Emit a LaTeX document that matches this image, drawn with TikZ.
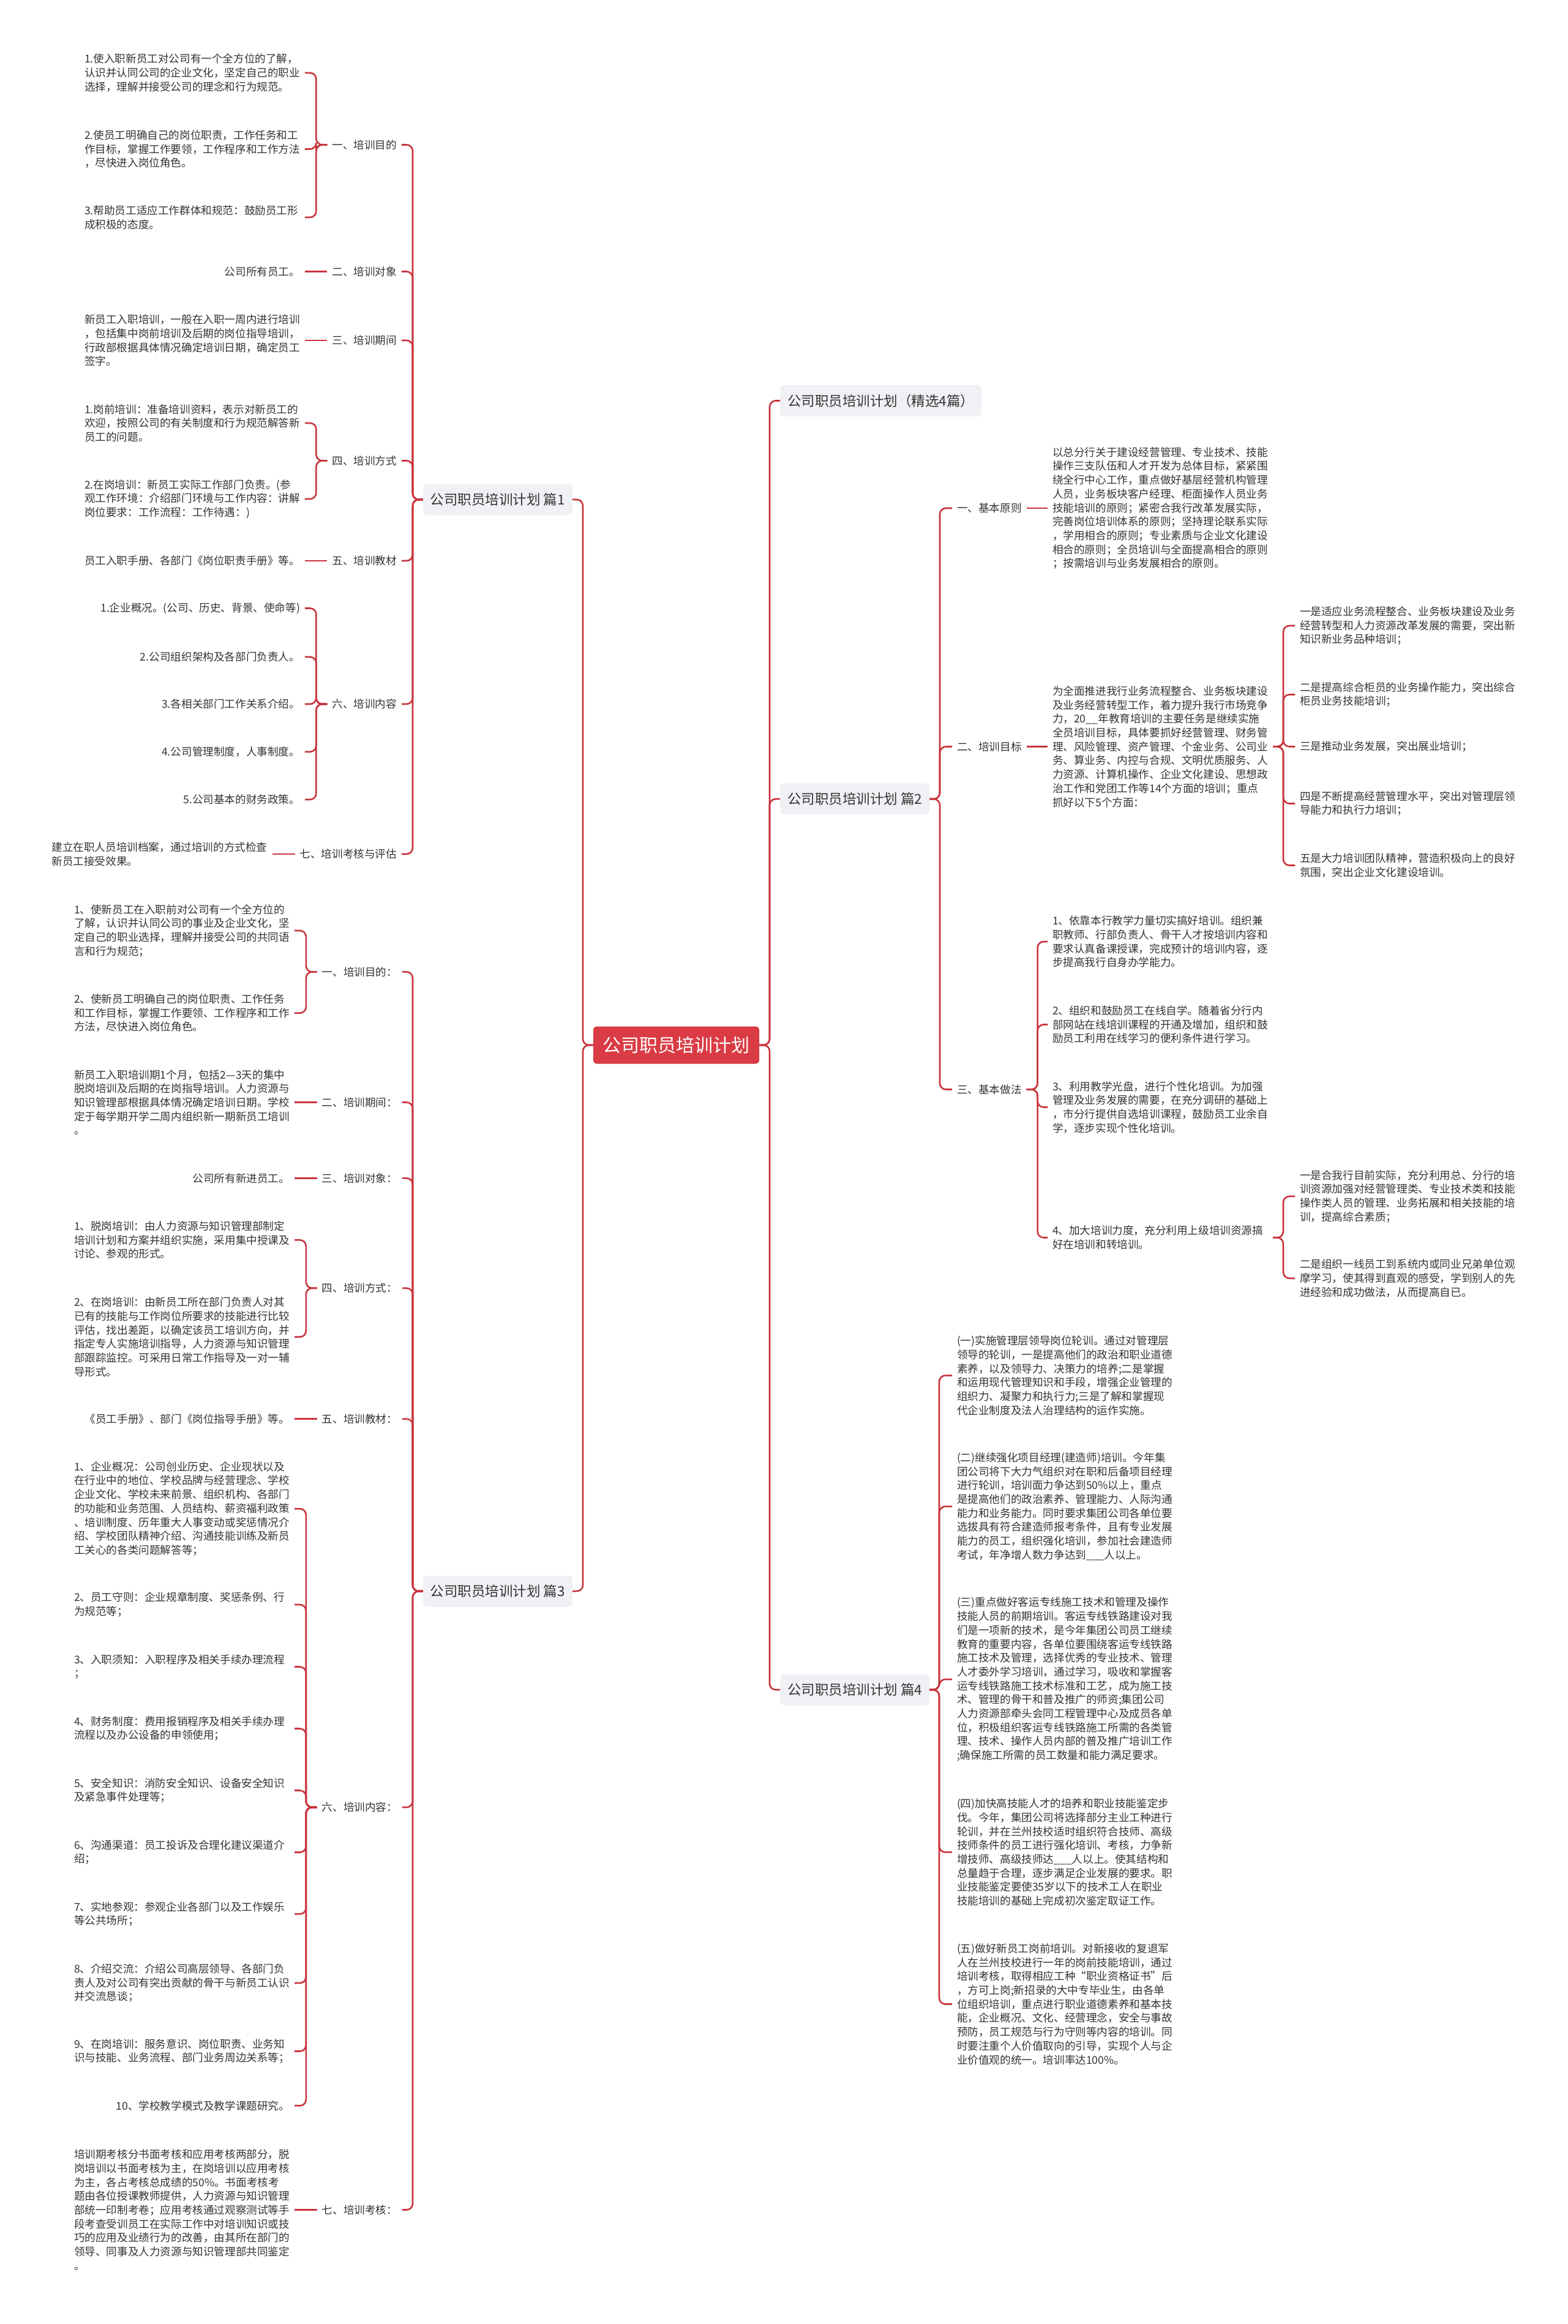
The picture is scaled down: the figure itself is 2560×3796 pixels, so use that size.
\documentclass[tikz,border=0pt]{standalone}
\usepackage{fontspec}
\newfontfamily\cjk{Noto Sans CJK SC}
\definecolor{linered}{RGB}{201,52,62}
\definecolor{rootred}{RGB}{218,59,68}
\definecolor{boxfill}{RGB}{239,241,244}
\definecolor{txt}{RGB}{51,51,51}
\newcommand\leaffont{\cjk\fontsize{17.6}{22.7}\selectfont}
\newcommand\lonefont{\cjk\fontsize{22.5}{27}\selectfont}
\newcommand\rootfont{\cjk\fontsize{30}{36}\selectfont}
\tikzset{
  leaf/.style={font=\leaffont, align=left, inner sep=0pt, outer xsep=8pt, outer ysep=0pt, text=txt},
  wide/.style={text width=352pt},
  lab/.style={leaf},
  lone/.style={font=\lonefont, fill=boxfill, rounded corners=7pt, inner xsep=12pt, inner ysep=0pt, minimum height=51pt, outer sep=0pt, text=txt},
  rootbox/.style={font=\rootfont, fill=rootred, text=white, rounded corners=6pt, inner xsep=15.5pt, inner ysep=0pt, minimum height=61pt, outer sep=0pt},
  conn/.style={draw=linered, line width=2.6pt, rounded corners=10pt}
}
\begin{document}
\begin{tikzpicture}[x=1pt,y=-1pt]
\fill[white] (0,0) rectangle (2560,3796);
\useasboundingbox (0,0) rectangle (2560,3796);

% root and main branches
\node[rootbox] (root) at (1104.5,1707) {公司职员培训计划};
\node[lone,anchor=east] (P1) at (935,816) {公司职员培训计划 篇1};
\node[lone,anchor=east] (P3) at (935,2599) {公司职员培训计划 篇3};
\node[lone,anchor=west] (R0) at (1274,654.5) {公司职员培训计划（精选4篇）};
\node[lone,anchor=west] (P2) at (1274,1305) {公司职员培训计划 篇2};
\node[lone,anchor=west] (P4) at (1274,2760) {公司职员培训计划 篇4};

% ---------- 篇1 ----------
\node[lab,anchor=east] (a1) at (656,236.5) {一、培训目的};
\node[lab,anchor=east] (a2) at (656,443.5) {二、培训对象};
\node[lab,anchor=east] (a3) at (656,556) {三、培训期间};
\node[lab,anchor=east] (a4) at (656,752.5) {四、培训方式};
\node[lab,anchor=east] (a5) at (656,916) {五、培训教材};
\node[lab,anchor=east] (a6) at (656,1150) {六、培训内容};
\node[lab,anchor=east] (a7) at (656,1395) {七、培训考核与评估};

\node[leaf,wide,anchor=east] (a1a) at (498,119) {1.使入职新员工对公司有一个全方位的了解，\\认识并认同公司的企业文化，坚定自己的职业\\选择，理解并接受公司的理念和行为规范。};
\node[leaf,wide,anchor=east] (a1b) at (498,243.5) {2.使员工明确自己的岗位职责，工作任务和工\\作目标，掌握工作要领，工作程序和工作方法\\，尽快进入岗位角色。};
\node[leaf,wide,anchor=east] (a1c) at (498,355) {3.帮助员工适应工作群体和规范：鼓励员工形\\成积极的态度。};
\node[leaf,anchor=east] (a2a) at (498,443.5) {公司所有员工。};
\node[leaf,wide,anchor=east] (a3a) at (498,556) {新员工入职培训，一般在入职一周内进行培训\\，包括集中岗前培训及后期的岗位指导培训，\\行政部根据具体情况确定培训日期，确定员工\\签字。};
\node[leaf,wide,anchor=east] (a4a) at (498,691) {1.岗前培训：准备培训资料，表示对新员工的\\欢迎，按照公司的有关制度和行为规范解答新\\员工的问题。};
\node[leaf,wide,anchor=east] (a4b) at (498,815) {2.在岗培训：新员工实际工作部门负责。(参\\观工作环境：介绍部门环境与工作内容：讲解\\岗位要求：工作流程：工作待遇：)};
\node[leaf,anchor=east] (a5a) at (498,916) {员工入职手册、各部门《岗位职责手册》等。};
\node[leaf,anchor=east] (a6a) at (498,993.5) {1.企业概况。(公司、历史、背景、使命等)};
\node[leaf,anchor=east] (a6b) at (498,1073) {2.公司组织架构及各部门负责人。};
\node[leaf,anchor=east] (a6c) at (498,1150) {3.各相关部门工作关系介绍。};
\node[leaf,anchor=east] (a6d) at (498,1228) {4.公司管理制度，人事制度。};
\node[leaf,anchor=east] (a6e) at (498,1306) {5.公司基本的财务政策。};
\node[leaf,wide,anchor=east] (a7a) at (444.5,1395) {建立在职人员培训档案，通过培训的方式检查\\新员工接受效果。};

% ---------- 篇3 ----------
\node[lab,anchor=east] (b1) at (657,1587.4) {一、培训目的：};
\node[lab,anchor=east] (b2) at (657,1800.5) {二、培训期间：};
\node[lab,anchor=east] (b3) at (657,1924.4) {三、培训对象：};
\node[lab,anchor=east] (b4) at (657,2104) {四、培训方式：};
\node[lab,anchor=east] (b5) at (657,2317.6) {五、培训教材：};
\node[lab,anchor=east] (b6) at (657,2952) {六、培训内容：};
\node[lab,anchor=east] (b7) at (657,3609.5) {七、培训考核：};

\node[leaf,wide,anchor=east] (b1a) at (481,1520) {1、使新员工在入职前对公司有一个全方位的\\了解，认识并认同公司的事业及企业文化，坚\\定自己的职业选择，理解并接受公司的共同语\\言和行为规范；};
\node[leaf,wide,anchor=east] (b1b) at (481,1654.7) {2、使新员工明确自己的岗位职责、工作任务\\和工作目标，掌握工作要领、工作程序和工作\\方法，尽快进入岗位角色。};
\node[leaf,wide,anchor=east] (b2a) at (481,1800.5) {新员工入职培训期1个月，包括2—3天的集中\\脱岗培训及后期的在岗指导培训。人力资源与\\知识管理部根据具体情况确定培训日期。学校\\定于每学期开学二周内组织新一期新员工培训\\。};
\node[leaf,anchor=east] (b3a) at (481,1924.4) {公司所有新进员工。};
\node[leaf,wide,anchor=east] (b4a) at (481,2025.4) {1、脱岗培训：由人力资源与知识管理部制定\\培训计划和方案并组织实施，采用集中授课及\\讨论、参观的形式。};
\node[leaf,wide,anchor=east] (b4b) at (481,2183.7) {2、在岗培训：由新员工所在部门负责人对其\\已有的技能与工作岗位所要求的技能进行比较\\评估，找出差距，以确定该员工培训方向，并\\指定专人实施培训指导，人力资源与知识管理\\部跟踪监控。可采用日常工作指导及一对一辅\\导形式。};
\node[leaf,anchor=east] (b5a) at (481,2317.6) {《员工手册》、部门《岗位指导手册》等。};
\node[leaf,wide,anchor=east] (b6a) at (481,2464.3) {1、企业概况：公司创业历史、企业现状以及\\在行业中的地位、学校品牌与经营理念、学校\\企业文化、学校未来前景、组织机构、各部门\\的功能和业务范围、人员结构、薪资福利政策\\、培训制度、历年重大人事变动或奖惩情况介\\绍、学校团队精神介绍、沟通技能训练及新员\\工关心的各类问题解答等；};
\node[leaf,wide,anchor=east] (b6b) at (481,2621) {2、员工守则：企业规章制度、奖惩条例、行\\为规范等；};
\node[leaf,wide,anchor=east] (b6c) at (481,2722.5) {3、入职须知：入职程序及相关手续办理流程\\；};
\node[leaf,wide,anchor=east] (b6d) at (481,2823.5) {4、财务制度：费用报销程序及相关手续办理\\流程以及办公设备的申领使用；};
\node[leaf,wide,anchor=east] (b6e) at (481,2924.5) {5、安全知识：消防安全知识、设备安全知识\\及紧急事件处理等；};
\node[leaf,wide,anchor=east] (b6f) at (481,3025.5) {6、沟通渠道：员工投诉及合理化建议渠道介\\绍；};
\node[leaf,wide,anchor=east] (b6g) at (481,3126.3) {7、实地参观：参观企业各部门以及工作娱乐\\等公共场所；};
\node[leaf,wide,anchor=east] (b6h) at (481,3239) {8、介绍交流：介绍公司高层领导、各部门负\\责人及对公司有突出贡献的骨干与新员工认识\\并交流恳谈；};
\node[leaf,wide,anchor=east] (b6i) at (481,3350.5) {9、在岗培训：服务意识、岗位职责、业务知\\识与技能、业务流程、部门业务周边关系等；};
\node[leaf,anchor=east] (b6j) at (481,3439.4) {10、学校教学模式及教学课题研究。};
\node[leaf,wide,anchor=east] (b7a) at (481,3609.5) {培训期考核分书面考核和应用考核两部分，脱\\岗培训以书面考核为主，在岗培训以应用考核\\为主，各占考核总成绩的50\%。书面考核考\\题由各位授课教师提供，人力资源与知识管理\\部统一印制考卷；应用考核通过观察测试等手\\段考查受训员工在实际工作中对培训知识或技\\巧的应用及业绩行为的改善，由其所在部门的\\领导、同事及人力资源与知识管理部共同鉴定\\。};

% ---------- 篇2 ----------
\node[lab,anchor=west] (c1) at (1555,830) {一、基本原则};
\node[lab,anchor=west] (c2) at (1555,1219.5) {二、培训目标};
\node[lab,anchor=west] (c3) at (1555,1779.5) {三、基本做法};

\node[leaf,wide,anchor=west] (c1a) at (1711,830) {以总分行关于建设经营管理、专业技术、技能\\操作三支队伍和人才开发为总体目标，紧紧围\\绕全行中心工作，重点做好基层经营机构管理\\人员，业务板块客户经理、柜面操作人员业务\\技能培训的原则；紧密合我行改革发展实际，\\完善岗位培训体系的原则；坚持理论联系实际\\，学用相合的原则；专业素质与企业文化建设\\相合的原则；全员培训与全面提高相合的原则\\；按需培训与业务发展相合的原则。};
\node[leaf,wide,anchor=west] (c2a) at (1711,1219.5) {为全面推进我行业务流程整合、业务板块建设\\及业务经营转型工作，着力提升我行市场竞争\\力，20\_\_年教育培训的主要任务是继续实施\\全员培训目标，具体要抓好经营管理、财务管\\理、风险管理、资产管理、个金业务、公司业\\务、算业务、内控与合规、文明优质服务、人\\力资源、计算机操作、企业文化建设、思想政\\治工作和党团工作等14个方面的培训；重点\\抓好以下5个方面：};
\node[leaf,wide,anchor=west] (c2b) at (2115,1022) {一是适应业务流程整合、业务板块建设及业务\\经营转型和人力资源改革发展的需要，突出新\\知识新业务品种培训；};
\node[leaf,wide,anchor=west] (c2c) at (2115,1134.5) {二是提高综合柜员的业务操作能力，突出综合\\柜员业务技能培训；};
\node[leaf,anchor=west] (c2d) at (2115,1219.5) {三是推动业务发展，突出展业培训；};
\node[leaf,wide,anchor=west] (c2e) at (2115,1312.5) {四是不断提高经营管理水平，突出对管理层领\\导能力和执行力培训；};
\node[leaf,wide,anchor=west] (c2f) at (2115,1413.5) {五是大力培训团队精神，营造积极向上的良好\\氛围，突出企业文化建设培训。};

\node[leaf,wide,anchor=west] (c3a) at (1711,1538) {1、依靠本行教学力量切实搞好培训。组织兼\\职教师、行部负责人、骨干人才按培训内容和\\要求认真备课授课，完成预计的培训内容，逐\\步提高我行自身办学能力。};
\node[leaf,wide,anchor=west] (c3b) at (1711,1673.5) {2、组织和鼓励员工在线自学。随着省分行内\\部网站在线培训课程的开通及增加，组织和鼓\\励员工利用在线学习的便利条件进行学习。};
\node[leaf,wide,anchor=west] (c3c) at (1711,1808.5) {3、利用教学光盘，进行个性化培训。为加强\\管理及业务发展的需要，在充分调研的基础上\\，市分行提供自选培训课程，鼓励员工业余自\\学，逐步实现个性化培训。};
\node[leaf,wide,anchor=west] (c3d) at (1711,2021.5) {4、加大培训力度，充分利用上级培训资源搞\\好在培训和转培训。};
\node[leaf,wide,anchor=west] (c3e) at (2115,1954) {一是合我行目前实际，充分利用总、分行的培\\训资源加强对经营管理类、专业技术类和技能\\操作类人员的管理、业务拓展和相关技能的培\\训，提高综合素质；};
\node[leaf,wide,anchor=west] (c3f) at (2115,2088) {二是组织一线员工到系统内或同业兄弟单位观\\摩学习，使其得到直观的感受，学到别人的先\\进经验和成功做法，从而提高自已。};

% ---------- 篇4 ----------
\node[leaf,wide,anchor=west] (d1) at (1555,2246.7) {(一)实施管理层领导岗位轮训。通过对管理层\\领导的轮训，一是提高他们的政治和职业道德\\素养，以及领导力、决策力的培养;二是掌握\\和运用现代管理知识和手段，增强企业管理的\\组织力、凝聚力和执行力;三是了解和掌握现\\代企业制度及法人治理结构的运作实施。};
\node[leaf,wide,anchor=west] (d2) at (1555,2460.6) {(二)继续强化项目经理(建造师)培训。今年集\\团公司将下大力气组织对在职和后备项目经理\\进行轮训，培训面力争达到50\%以上，重点\\是提高他们的政治素养、管理能力、人际沟通\\能力和业务能力。同时要求集团公司各单位要\\选拔具有符合建造师报考条件，且有专业发展\\能力的员工，组织强化培训，参加社会建造师\\考试，年净增人数力争达到\_\_\_人以上。};
\node[leaf,wide,anchor=west] (d3) at (1555,2743) {(三)重点做好客运专线施工技术和管理及操作\\技能人员的前期培训。客运专线铁路建设对我\\们是一项新的技术，是今年集团公司员工继续\\教育的重要内容，各单位要围绕客运专线铁路\\施工技术及管理，选择优秀的专业技术、管理\\人才委外学习培训，通过学习，吸收和掌握客\\运专线铁路施工技术标准和工艺，成为施工技\\术、管理的骨干和普及推广的师资;集团公司\\人力资源部牵头会同工程管理中心及成员各单\\位，积极组织客运专线铁路施工所需的各类管\\理、技术、操作人员内部的普及推广培训工作\\;确保施工所需的员工数量和能力满足要求。};
\node[leaf,wide,anchor=west] (d4) at (1555,3025.4) {(四)加快高技能人才的培养和职业技能鉴定步\\伐。今年，集团公司将选择部分主业工种进行\\轮训，并在兰州技校适时组织符合技师、高级\\技师条件的员工进行强化培训、考核，力争新\\增技师、高级技师达\_\_\_人以上。使其结构和\\总量趋于合理，逐步满足企业发展的要求。职\\业技能鉴定要使35岁以下的技术工人在职业\\技能培训的基础上完成初次鉴定取证工作。};
\node[leaf,wide,anchor=west] (d5) at (1555,3273.5) {(五)做好新员工岗前培训。对新接收的复退军\\人在兰州技校进行一年的岗前技能培训，通过\\培训考核，取得相应工种“职业资格证书”后\\，方可上岗;新招录的大中专毕业生，由各单\\位组织培训，重点进行职业道德素养和基本技\\能，企业概况、文化、经营理念，安全与事故\\预防，员工规范与行为守则等内容的培训。同\\时要注重个人价值取向的引导，实现个人与企\\业价值观的统一。培训率达100\%。};

% ---------- connectors ----------
\foreach \ch in {P1,P3} \draw[conn] (root.west) -- ++(-17,0) |- (\ch.east);
\foreach \ch in {R0,P2,P4} \draw[conn] (root.east) -- ++(17,0) |- (\ch.west);

\foreach \ch in {a1,a2,a3,a4,a5,a6,a7} \draw[conn] (P1.west) -- ++(-17,0) |- (\ch.east);
\foreach \ch in {a1a,a1b,a1c} \draw[conn] (a1.west) -- ++(-18,0) |- (\ch.east);
\draw[conn] (a2.west) -- (a2a.east);
\draw[conn] (a3.west) -- (a3a.east);
\foreach \ch in {a4a,a4b} \draw[conn] (a4.west) -- ++(-18,0) |- (\ch.east);
\draw[conn] (a5.west) -- (a5a.east);
\foreach \ch in {a6a,a6b,a6c,a6d,a6e} \draw[conn] (a6.west) -- ++(-18,0) |- (\ch.east);
\draw[conn] (a7.west) -- (a7a.east);

\foreach \ch in {b1,b2,b3,b4,b5,b6,b7} \draw[conn] (P3.west) -- ++(-17,0) |- (\ch.east);
\foreach \ch in {b1a,b1b} \draw[conn] (b1.west) -- ++(-18,0) |- (\ch.east);
\draw[conn] (b2.west) -- (b2a.east);
\draw[conn] (b3.west) -- (b3a.east);
\foreach \ch in {b4a,b4b} \draw[conn] (b4.west) -- ++(-18,0) |- (\ch.east);
\draw[conn] (b5.west) -- (b5a.east);
\foreach \ch in {b6a,b6b,b6c,b6d,b6e,b6f,b6g,b6h,b6i,b6j} \draw[conn] (b6.west) -- ++(-18,0) |- (\ch.east);
\draw[conn] (b7.west) -- (b7a.east);

\foreach \ch in {c1,c2,c3} \draw[conn] (P2.east) -- ++(17,0) |- (\ch.west);
\draw[conn] (c1.east) -- (c1a.west);
\draw[conn] (c2.east) -- (c2a.west);
\foreach \ch in {c2b,c2c,c2d,c2e,c2f} \draw[conn] (c2a.east) -- ++(17,0) |- (\ch.west);
\foreach \ch in {c3a,c3b,c3c,c3d} \draw[conn] (c3.east) -- ++(18,0) |- (\ch.west);
\foreach \ch in {c3e,c3f} \draw[conn] (c3d.east) -- ++(17,0) |- (\ch.west);

\foreach \ch in {d1,d2,d3,d4,d5} \draw[conn] (P4.east) -- ++(16,0) |- (\ch.west);
\end{tikzpicture}
\end{document}
